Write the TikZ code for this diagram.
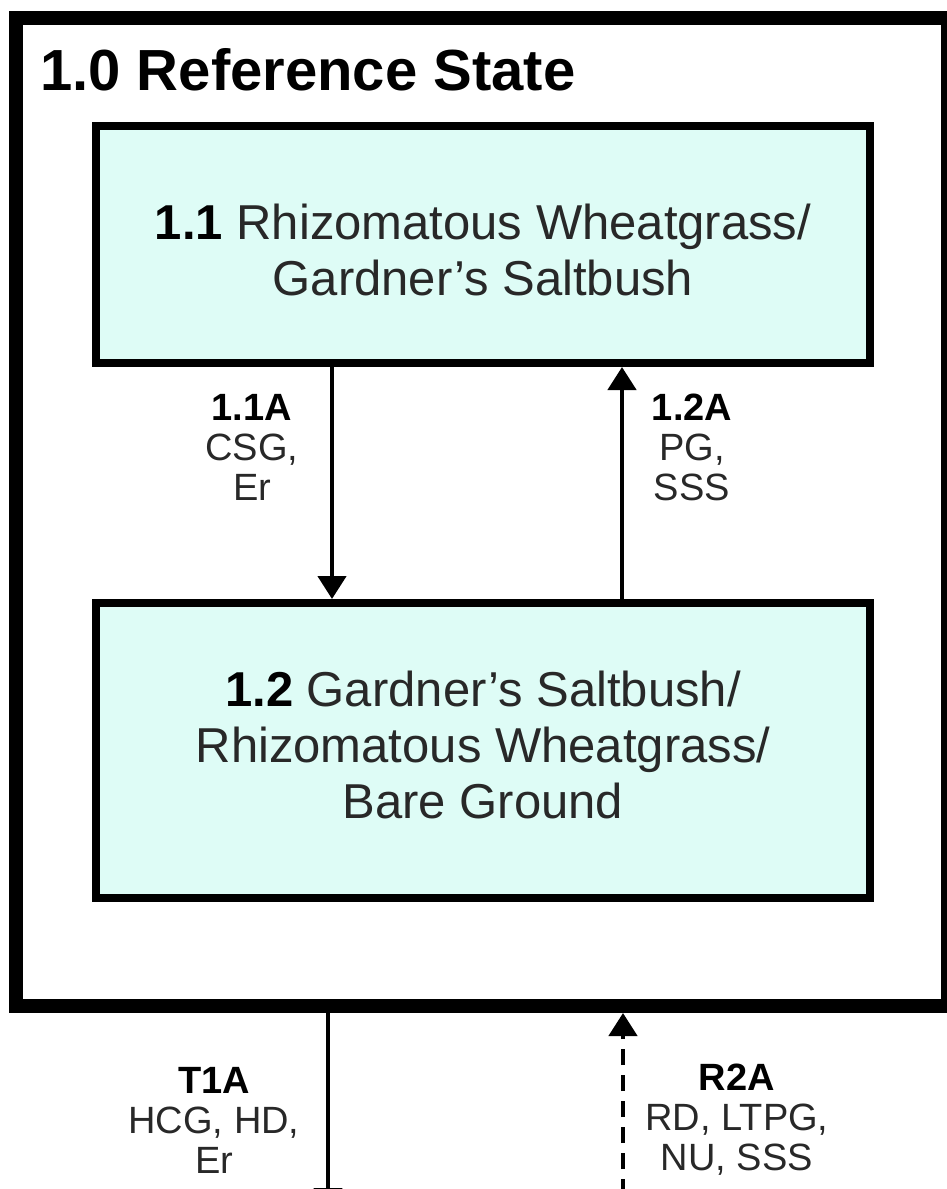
\documentclass[tikz,border=0pt]{standalone}
\usepackage{fontspec}
\setmainfont{Liberation Sans}
\usetikzlibrary{arrows.meta}
\definecolor{boxfill}{RGB}{222,252,246}
\definecolor{txt}{RGB}{40,40,40}
\begin{document}
\begin{tikzpicture}[x=1pt,y=1pt,
  framebox/.style={draw=black, line width=14pt, minimum width=932.5pt, minimum height=988.5pt, inner sep=0},
  statebox/.style={draw=black, line width=8pt, fill=boxfill, minimum width=774pt, inner sep=0},
  boxtext/.style={align=center, font=\fontsize{49}{56}\selectfont, text=txt, inner sep=0},
  lbl/.style={align=center, font=\fontsize{38}{40}\selectfont, text=txt, inner sep=0},
  conn/.style={line width=4.5pt, -{Triangle[length=23pt,width=28pt]}},
  dashconn/.style={conn, dash pattern=on 16pt off 10pt},
]
\useasboundingbox (0,0) rectangle (947,-1189);
\begin{scope}
\clip (0,0) rectangle (947,-1189);
\node[framebox] (frame) at (481.75,-511.75) {};
\node[anchor=base west, inner sep=0, font=\fontsize{58}{64}\selectfont\bfseries] (title) at (40,-90) {1.0 Reference State};
\node[statebox, minimum height=237pt] (b11) at (483,-244.5) {};
\node[boxtext] (t11) at (483,-250)
  {\textcolor{black}{\textbf{1.1}} Rhizomatous Wheatgrass/\\Gardner's Saltbush};
\node[statebox, minimum height=295pt] (b12) at (483,-750.5) {};
\node[boxtext] (t12) at (483,-745)
  {\textcolor{black}{\textbf{1.2}} Gardner's Saltbush/\\Rhizomatous Wheatgrass/\\Bare Ground};
\draw[conn] (b11.south -| 332,0) -- (b12.north -| 332,0);
\draw[conn] (b12.north -| 622,0) -- (b11.south -| 622,0);
\node[lbl] (l11) at (252,-447) {\textcolor{black}{\textbf{1.1A}}\\CSG,\\Er};
\node[lbl] (l12) at (692,-447) {\textcolor{black}{\textbf{1.2A}}\\PG,\\SSS};
\coordinate (t1end) at (328,-1211);
\coordinate (r2start) at (623,-1195);
\draw[conn] (frame.south -| 328,0) -- (t1end);
\draw[dashconn] (r2start) -- (frame.south -| 623,0);
\node[lbl] (lt1) at (214,-1120) {\textcolor{black}{\textbf{T1A}}\\HCG, HD,\\Er};
\node[lbl] (lr2) at (737,-1120) {\textcolor{black}{\textbf{R2A}}\\RD, LTPG,\\NU, SSS};
\end{scope}
\end{tikzpicture}
\end{document}
